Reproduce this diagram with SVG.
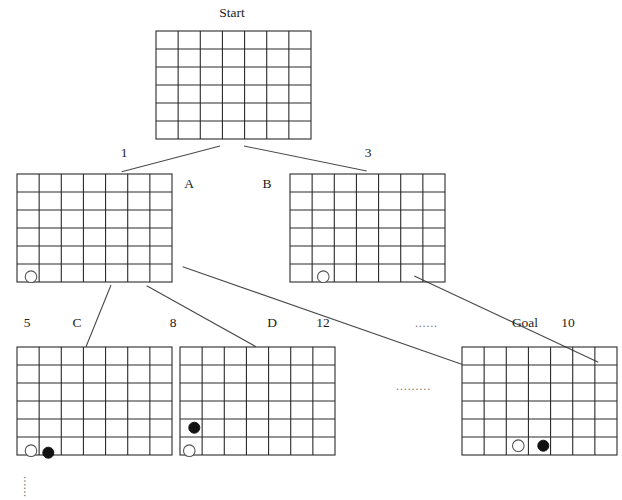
<svg xmlns="http://www.w3.org/2000/svg" xmlns:xlink="http://www.w3.org/1999/xlink" width="622" height="500" viewBox="0 0 622 500">
<style>
.g line, .g rect { stroke: #2a2a2a; stroke-width: 1.1; fill: none; }
.conn line { stroke: #4a4a4a; stroke-width: 1.1; }
.lbl { font-family: "Liberation Serif", "Times New Roman", serif; font-size: 13.5px; fill: #222; text-anchor: middle; }
.dots { font-family: "Liberation Serif", serif; font-size: 12px; fill: #777; }
.w { fill: #fff; stroke: #555; stroke-width: 1.1; }
.b { fill: #111; stroke: #111; stroke-width: 1; }
</style>
<defs>
<g id="grid" class="g">
<rect x="0" y="0" width="155" height="108"/>
<line x1="22.14" y1="0" x2="22.14" y2="108"/>
<line x1="44.29" y1="0" x2="44.29" y2="108"/>
<line x1="66.43" y1="0" x2="66.43" y2="108"/>
<line x1="88.57" y1="0" x2="88.57" y2="108"/>
<line x1="110.71" y1="0" x2="110.71" y2="108"/>
<line x1="132.86" y1="0" x2="132.86" y2="108"/>
<line x1="0" y1="18" x2="155" y2="18"/>
<line x1="0" y1="36" x2="155" y2="36"/>
<line x1="0" y1="54" x2="155" y2="54"/>
<line x1="0" y1="72" x2="155" y2="72"/>
<line x1="0" y1="90" x2="155" y2="90"/>
</g>
</defs>
<rect width="622" height="500" fill="#fff"/>
<g id="conns" class="conn">
<line x1="220" y1="146" x2="121.7" y2="171.7"/>
<line x1="244" y1="146" x2="366.7" y2="171"/>
<line x1="111" y1="285" x2="86" y2="346.7"/>
<line x1="146.7" y1="285.7" x2="256" y2="346.7"/>
<line x1="182.7" y1="266.7" x2="461.7" y2="364.3"/>
<line x1="414.3" y1="276" x2="598.3" y2="362.3"/>
</g>
<g id="node-start">
<use xlink:href="#grid" href="#grid" x="156" y="31"/>
<text class="lbl" x="232" y="17">Start</text>
</g>
<g id="node-a">
<use xlink:href="#grid" href="#grid" x="17" y="174"/>
<circle class="w" cx="31" cy="276.7" r="5.8"/>
<text class="lbl" x="124" y="157">1</text>
<text class="lbl" x="189" y="188">A</text>
</g>
<g id="node-b">
<use xlink:href="#grid" href="#grid" x="290" y="174"/>
<circle class="w" cx="323.3" cy="276.7" r="5.8"/>
<text class="lbl" x="368" y="157">3</text>
<text class="lbl" x="267" y="188">B</text>
</g>
<g id="node-c">
<use xlink:href="#grid" href="#grid" x="17" y="347"/>
<circle class="w" cx="31" cy="450.7" r="5.8"/>
<circle class="b" cx="48.3" cy="452.7" r="5.5"/>
<text class="lbl" x="27" y="327">5</text>
<text class="lbl" x="77" y="327">C</text>
</g>
<g id="node-d">
<use xlink:href="#grid" href="#grid" x="180" y="347"/>
<circle class="b" cx="194.3" cy="427.7" r="5.5"/>
<circle class="w" cx="189.3" cy="450.7" r="5.8"/>
<text class="lbl" x="173" y="327">8</text>
<text class="lbl" x="272" y="327">D</text>
</g>
<g id="node-goal">
<use xlink:href="#grid" href="#grid" x="462" y="347"/>
<circle class="w" cx="518.3" cy="445.7" r="5.8"/>
<circle class="b" cx="543.3" cy="445.7" r="5.5"/>
<text class="lbl" x="525" y="327">Goal</text>
<text class="lbl" x="568" y="327">10</text>
</g>
<g id="labels">
<text class="lbl" x="323" y="327">12</text>
<text class="dots" x="415" y="327" letter-spacing="0.8">......</text>
<text class="dots" x="396" y="390" letter-spacing="0.9">.........</text>
<text class="dots" x="0" y="0" letter-spacing="0.6" transform="translate(24,476) rotate(90)">......</text>
</g>
</svg>
